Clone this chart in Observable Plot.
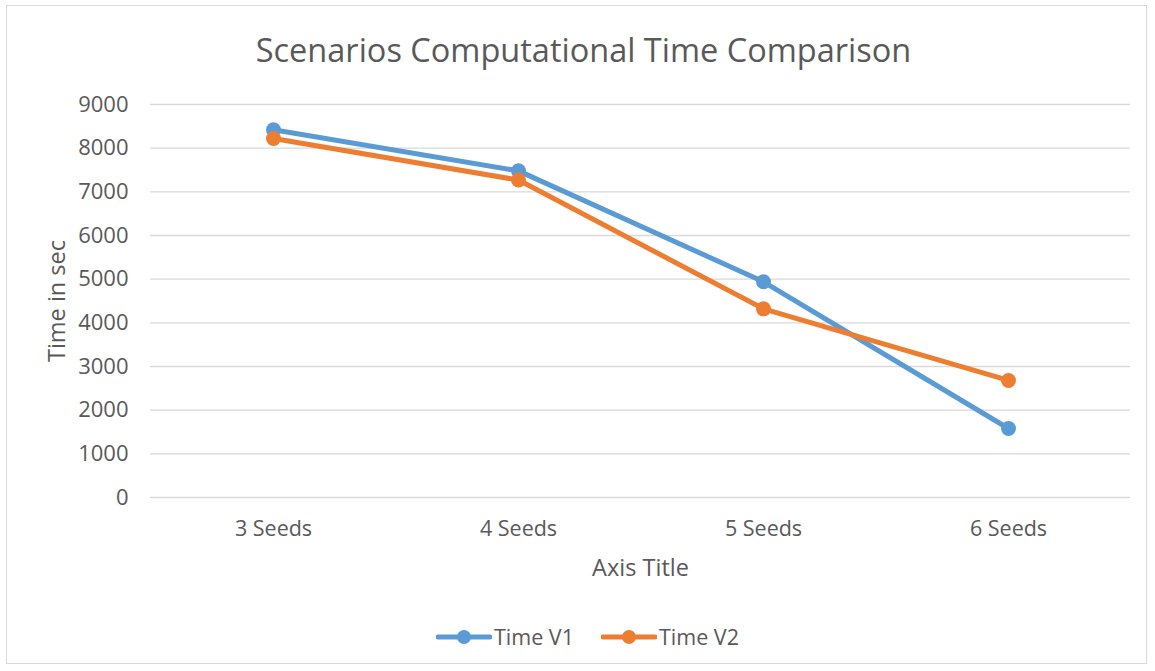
<!DOCTYPE html>
<html>
<head>
<meta charset="utf-8">
<script src="https://cdn.jsdelivr.net/npm/d3@7"></script>
<script src="https://cdn.jsdelivr.net/npm/@observablehq/plot@0.6"></script>
<style>
  html, body { margin: 0; padding: 0; background: #fff; }
  body { width: 1155px; height: 671px; position: relative; overflow: hidden; font-family: "Open Sans", Lato, sans-serif; color: #595959; }
  #frame { position: absolute; left: 6px; top: 5px; width: 1141px; height: 659px; border: 1px solid #d9d9d9; box-sizing: border-box; }
  #title { height: 80px; box-sizing: border-box; padding-top: 28px; text-align: center; font-size: 32.5px; line-height: 44px; width: 1155px; padding-left: 12px; }
  #chart { display: block; }
  #legend { height: 81px; width: 1155px; position: relative; }
  .li { position: absolute; top: 34px; display: flex; align-items: center; font-size: 21.5px; line-height: 26px; }
  .li span { margin-left: 2px; }
</style>
</head>
<body>
<div id="frame"></div>
<div id="title">Scenarios Computational Time Comparison</div>
<div id="chart"></div>
<div id="legend"></div>
<script>
const categories = ["3 Seeds", "4 Seeds", "5 Seeds", "6 Seeds"];
const timeV1 = [8420, 7480, 4940, 1580];
const timeV2 = [8220, 7270, 4320, 2680];
const yTicks = [0, 1000, 2000, 3000, 4000, 5000, 6000, 7000, 8000, 9000];
const seriesNames = ["Time V1", "Time V2"];
const seriesColors = ["#5B9BD5", "#ED7D31"];

const rows = [];
[timeV1, timeV2].forEach((vals, s) => {
  vals.forEach((v, i) => rows.push({category: categories[i], value: v, series: seriesNames[s]}));
});

const txt = "#595959";
const plot = Plot.plot({
  width: 1155,
  height: 510,
  marginTop: 24,
  marginBottom: 93,
  marginLeft: 150,
  marginRight: 25,
  style: {fontFamily: "'Open Sans', Lato, sans-serif", color: txt, background: "transparent"},
  x: {type: "point", domain: categories, padding: 0.5},
  y: {domain: [0, 9000]},
  color: {domain: seriesNames, range: seriesColors},
  marks: [
    Plot.ruleY(yTicks, {stroke: "#d9d9d9", strokeWidth: 1.3}),
    Plot.axisY({ticks: yTicks, tickSize: 0, tickPadding: 22, fontSize: 22, label: null, fill: txt, tickFormat: d => String(d)}),
    Plot.axisX({tickSize: 0, tickPadding: 23, fontSize: 21.5, label: null, fill: txt}),
    Plot.text(["Axis Title"], {frameAnchor: "bottom", textAnchor: "middle", lineAnchor: "middle", dy: 71, fontSize: 23.5, fill: txt}),
    Plot.text(["Time in sec"], {frameAnchor: "left", textAnchor: "middle", lineAnchor: "middle", dx: -93, rotate: -90, fontSize: 23.5, fill: txt}),
    Plot.line(rows, {x: "category", y: "value", stroke: "series", strokeWidth: 5, strokeLinejoin: "round", strokeLinecap: "round"}),
    Plot.dot(rows, {x: "category", y: "value", fill: "series", r: 7.5, stroke: "none"})
  ]
});
document.getElementById("chart").appendChild(plot);

const legend = document.getElementById("legend");
const lx = [436, 601];
seriesNames.forEach((name, i) => {
  const d = document.createElement("div");
  d.className = "li";
  d.style.left = lx[i] + "px";
  d.innerHTML = `<svg width="56" height="16"><line x1="2" x2="54" y1="8" y2="8" stroke="${seriesColors[i]}" stroke-width="5" stroke-linecap="round"/><circle cx="28" cy="8" r="7" fill="${seriesColors[i]}"/></svg><span>${name}</span>`;
  legend.appendChild(d);
});
</script>
</body>
</html>
